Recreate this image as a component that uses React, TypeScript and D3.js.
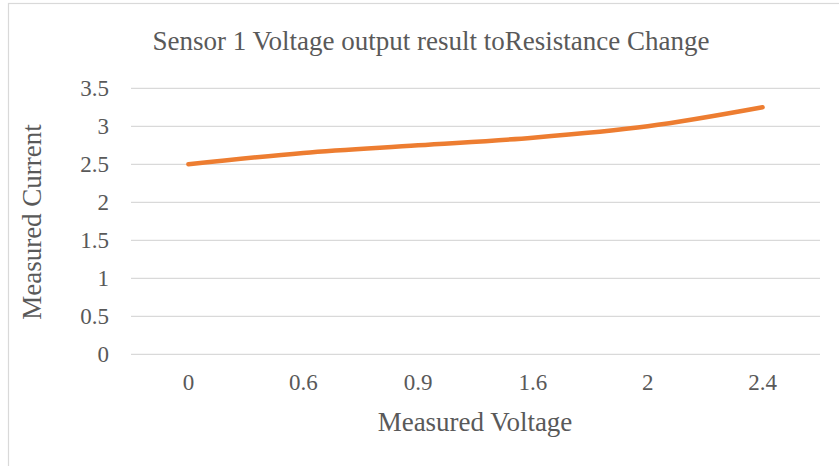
import { useEffect, useRef } from "react"
import * as d3 from "d3"

const categories = ["0", "0.6", "0.9", "1.6", "2", "2.4"]
const current = [2.5, 2.65, 2.75, 2.85, 3.0, 3.25]
const yTicks = [0, 0.5, 1, 1.5, 2, 2.5, 3, 3.5]

const App = () => {
	const svgRef = useRef(null)

	useEffect(() => {
		const svg = d3.select(svgRef.current)
		svg.selectAll("*").remove()

		const width = 839
		const height = 466
		const font = "'Liberation Serif', 'Times New Roman', serif"
		const textColor = "#595959"

		// plot area
		const left = 131
		const right = 820
		const top = 88.3
		const bottom = 354.3

		svg.attr("width", width).attr("height", height)

		// chart frame
		svg.append("rect")
			.attr("x", 8.5)
			.attr("y", 3.5)
			.attr("width", 900)
			.attr("height", 600)
			.attr("fill", "#fff")
			.attr("stroke", "#d9d9d9")
			.attr("stroke-width", 1.2)

		const x = d3.scaleBand().domain(categories).range([left, right])
		const y = d3.scaleLinear().domain([0, 3.5]).range([bottom, top])

		// gridlines
		svg.append("g")
			.selectAll("line")
			.data(yTicks)
			.enter()
			.append("line")
			.attr("x1", left)
			.attr("x2", right)
			.attr("y1", d => y(d))
			.attr("y2", d => y(d))
			.attr("stroke", "#d9d9d9")
			.attr("stroke-width", 1.3)

		// y tick labels
		svg.append("g")
			.selectAll("text")
			.data(yTicks)
			.enter()
			.append("text")
			.attr("x", 109)
			.attr("y", d => y(d))
			.attr("dy", "0.35em")
			.attr("text-anchor", "end")
			.attr("font-family", font)
			.attr("font-size", 23)
			.attr("fill", textColor)
			.text(d => String(d))

		// x tick labels
		svg.append("g")
			.selectAll("text")
			.data(categories)
			.enter()
			.append("text")
			.attr("x", d => (x(d) as number) + x.bandwidth() / 2)
			.attr("y", 390)
			.attr("text-anchor", "middle")
			.attr("font-family", font)
			.attr("font-size", 23)
			.attr("fill", textColor)
			.text(d => d)

		// the line, smoothed like Excel
		const line = d3.line<number>()
			.x((_, i) => (x(categories[i]) as number) + x.bandwidth() / 2)
			.y(d => y(d))
			.curve(d3.curveCatmullRom.alpha(0.5))

		svg.append("path")
			.datum(current)
			.attr("d", line)
			.attr("fill", "none")
			.attr("stroke", "#ED7D31")
			.attr("stroke-width", 4.5)
			.attr("stroke-linecap", "round")
			.attr("stroke-linejoin", "round")

		// title
		svg.append("text")
			.attr("x", 431)
			.attr("y", 50)
			.attr("text-anchor", "middle")
			.attr("font-family", font)
			.attr("font-size", 27)
			.attr("fill", textColor)
			.text("Sensor 1 Voltage output result toResistance Change")

		// axis titles
		svg.append("text")
			.attr("x", 475)
			.attr("y", 431)
			.attr("text-anchor", "middle")
			.attr("font-family", font)
			.attr("font-size", 27)
			.attr("fill", textColor)
			.text("Measured Voltage")

		svg.append("text")
			.attr("transform", "translate(41,222) rotate(-90)")
			.attr("text-anchor", "middle")
			.attr("font-family", font)
			.attr("font-size", 27)
			.attr("fill", textColor)
			.text("Measured Current")
	}, [])

	return <svg ref={svgRef} style={{ position: "absolute", left: 0, top: 0 }}></svg>
}

export default App
